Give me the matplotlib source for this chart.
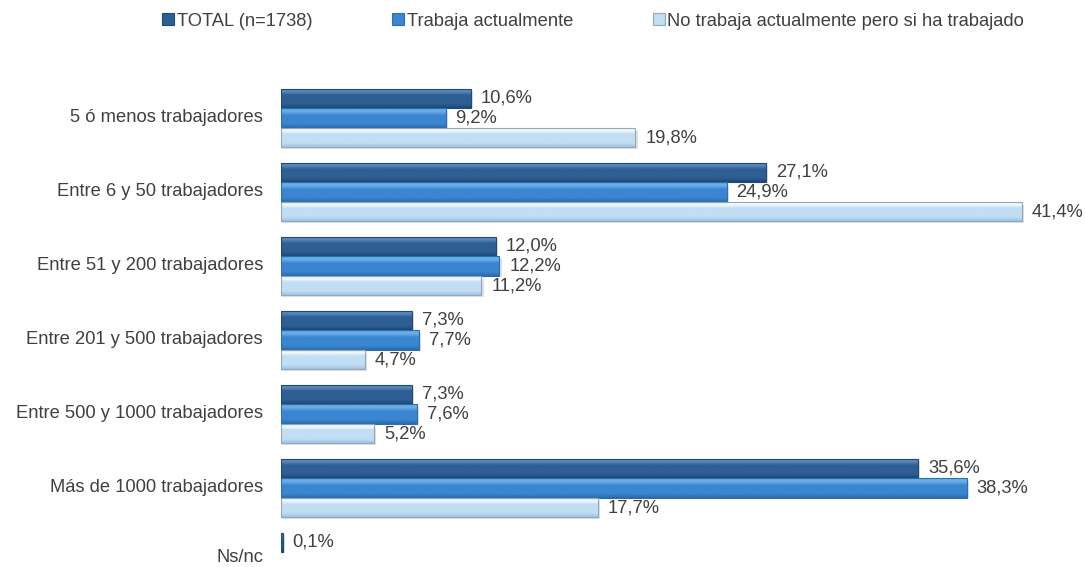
import matplotlib
matplotlib.use("Agg")
import matplotlib.pyplot as plt
import numpy as np
from matplotlib.colors import LinearSegmentedColormap
from matplotlib.patches import Patch

plt.rcParams["font.family"] = ["Liberation Sans", "DejaVu Sans"]

categories = [
    "5 ó menos trabajadores",
    "Entre 6 y 50 trabajadores",
    "Entre 51 y 200 trabajadores",
    "Entre 201 y 500 trabajadores",
    "Entre 500 y 1000 trabajadores",
    "Más de 1000 trabajadores",
    "Ns/nc",
]
series_names = [
    "TOTAL (n=1738)",
    "Trabaja actualmente",
    "No trabaja actualmente pero si ha trabajado",
]
total = [10.6, 27.1, 12.0, 7.3, 7.3, 35.6, 0.1]
trabaja = [9.2, 24.9, 12.2, 7.7, 7.6, 38.3, 0.0]
no_trabaja = [19.8, 41.4, 11.2, 4.7, 5.2, 17.7, 0.0]

# (top highlight, body, bottom shade, edge)
palettes = [
    ("#5a86b8", "#2e5f94", "#1d4674", "#1f4a78"),
    ("#6aaee8", "#3a86d0", "#2a68a8", "#2c6db0"),
    ("#f2f9ff", "#c2def4", "#9fc3e2", "#8fa8bd"),
]
text_color = "#404040"

fig = plt.figure(figsize=(10.85, 5.67), dpi=100)
x0 = 281 / 1085
ax = fig.add_axes([x0, 0, 1 - x0, 1])
px_per_pct = 17.9
ax.set_xlim(0, (1085 - 281) / px_per_pct)
ax.set_ylim((567 - 118) / 74, -118 / 74)
for s in ax.spines.values():
    s.set_visible(False)
ax.set_xticks([])
ax.set_yticks([])

bar_h = 0.257
step = 0.27
y = np.arange(len(categories))


def gradient_bar(rect, pal):
    top, body, bottom, edge = pal
    cmap = LinearSegmentedColormap.from_list(
        "g", [(0, top), (0.18, top), (0.35, body), (0.8, body), (1, bottom)])
    x, yb = rect.get_x(), rect.get_y()
    w, h = rect.get_width(), rect.get_height()
    if w <= 0:
        return
    grad = np.linspace(0, 1, 64).reshape(-1, 1)
    # soft shadow below the bar
    ax.add_patch(plt.Rectangle((x, yb + h * 0.15), w + 0.12, h * 0.95,
                               color="#000000", alpha=0.12, lw=0, zorder=1))
    im = ax.imshow(grad, cmap=cmap, aspect="auto", extent=(x, x + w, yb + h, yb),
                   zorder=2, interpolation="bicubic")
    im.set_clip_path(rect)
    rect.set_facecolor("none")
    rect.set_edgecolor(edge)
    rect.set_linewidth(0.8)
    rect.set_zorder(3)


for k, (vals, pal) in enumerate(zip([total, trabaja, no_trabaja], palettes)):
    bars = ax.barh(y + (k - 1) * step, vals, height=bar_h, color=pal[1])
    for rect, v in zip(bars, vals):
        gradient_bar(rect, pal)
        if v > 0:
            ax.text(v + 0.55, rect.get_y() + rect.get_height() / 2,
                    f"{v:.1f}%".replace(".", ","), va="center", ha="left",
                    fontsize=13.2, color=text_color, zorder=4)

for yi, cat in zip(y, categories):
    yc = min(118 + 74 * yi, 557)
    fig.text(263 / 1085, 1 - yc / 567, cat, ha="right", va="center",
             fontsize=13.2, color=text_color)

handles = [Patch(facecolor=p[1], edgecolor=p[3], linewidth=0.8) for p in palettes]
fig.legend(handles, series_names, loc="center left",
           bbox_to_anchor=(162 / 1085, 1 - 21 / 567),
           ncol=3, frameon=False, fontsize=13.2, labelcolor=text_color,
           handlelength=0.65, handleheight=0.65, handletextpad=0.15,
           columnspacing=4.35, borderaxespad=0, borderpad=0)

fig.savefig("out.png", dpi=100)
